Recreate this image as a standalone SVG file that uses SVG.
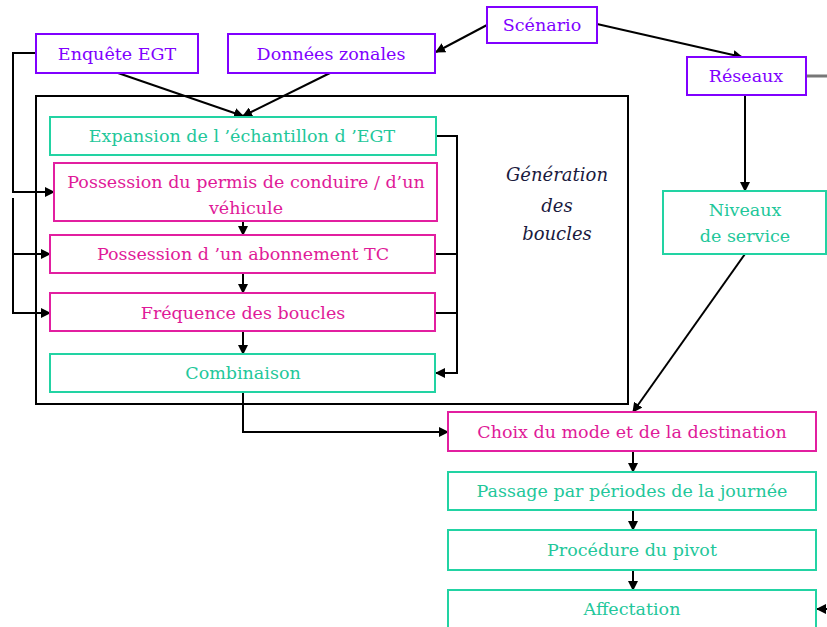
<svg xmlns="http://www.w3.org/2000/svg" width="827" height="627" viewBox="0 0 827 627">
<defs>
<marker id="ah" viewBox="0 0 10 10" refX="9" refY="5" markerWidth="5" markerHeight="5" orient="auto">
<path d="M0,0 L10,5 L0,10 z" fill="#000"/>
</marker>
<style>
text{font-family:"DejaVu Serif","Liberation Serif",serif;font-size:17.5px;text-anchor:middle}
.p rect{fill:#fff;stroke:#8000ff;stroke-width:2}
.p text{fill:#8000ff}
.g rect{fill:#fff;stroke:#22d3a3;stroke-width:2}
.g text{fill:#22c79a}
.m rect{fill:#fff;stroke:#e21fa0;stroke-width:2}
.m text{fill:#e01a98}
.c path{fill:none;stroke:#000;stroke-width:2}
.a{marker-end:url(#ah)}
.it{font-style:italic;fill:#1a1a3e;font-size:18px}
</style>
</defs>
<rect width="827" height="627" fill="#fff"/>
<g id="frame">
<rect x="36" y="96" width="592" height="308" fill="none" stroke="#000" stroke-width="2"/>
<text x="557" y="181" class="it">Génération</text>
<text x="557" y="212" class="it">des</text>
<text x="557" y="240" class="it">boucles</text>
</g>
<g class="c" id="connectors">
<path class="a" d="M487,25 L436,52"/>
<path class="a" d="M597,24 L742,57"/>
<path d="M806,76 L827,76" style="stroke:#777;stroke-width:3"/>
<path class="a" d="M118,73 L243,116"/>
<path class="a" d="M330,73 L243,116"/>
<path class="a" d="M36,53 L13,53 L13,192 L54,192"/>
<path class="a" d="M13,198 L13,313 L50,313"/>
<path class="a" d="M13,254 L50,254"/>
<path class="a" d="M436,136 L457,136 L457,373 L436,373"/>
<path d="M435,254 L457,254"/>
<path d="M435,313 L457,313"/>
<path class="a" d="M243,221 L243,235"/>
<path class="a" d="M243,273 L243,293"/>
<path class="a" d="M243,331 L243,354"/>
<path class="a" d="M243,392 L243,432 L448,432"/>
<path class="a" d="M745,95 L745,191"/>
<path class="a" d="M745,254 L633,412"/>
<path class="a" d="M633,451 L633,472"/>
<path class="a" d="M633,510 L633,530"/>
<path class="a" d="M633,570 L633,590"/>
<path class="a" d="M827,609 L817,609"/>
</g>
<g id="enquete" class="p"><rect x="36" y="34" width="162" height="39"/><text x="117" y="60">Enquête EGT</text></g>
<g id="donnees" class="p"><rect x="228" y="34" width="207" height="39"/><text x="331" y="60">Données zonales</text></g>
<g id="scenario" class="p"><rect x="487" y="7" width="110" height="36"/><text x="542" y="31">Scénario</text></g>
<g id="reseaux" class="p"><rect x="687" y="57" width="119" height="38"/><text x="746" y="82">Réseaux</text></g>
<g id="expansion" class="g"><rect x="50" y="117" width="386" height="38"/><text x="242" y="142">Expansion de l ’échantillon d ’EGT</text></g>
<g id="permis" class="m"><rect x="54" y="163" width="383" height="58"/><text x="246" y="188">Possession du permis de conduire / d’un</text><text x="246" y="214">véhicule</text></g>
<g id="abonnement" class="m"><rect x="50" y="235" width="385" height="38"/><text x="243" y="260">Possession d ’un abonnement TC</text></g>
<g id="frequence" class="m"><rect x="50" y="293" width="385" height="38"/><text x="243" y="319">Fréquence des boucles</text></g>
<g id="combinaison" class="g"><rect x="50" y="354" width="385" height="38"/><text x="243" y="379">Combinaison</text></g>
<g id="niveaux" class="g"><rect x="663" y="191" width="163" height="63"/><text x="745" y="216">Niveaux</text><text x="745" y="242">de service</text></g>
<g id="choix" class="m"><rect x="448" y="412" width="368" height="39"/><text x="632" y="438">Choix du mode et de la destination</text></g>
<g id="passage" class="g"><rect x="448" y="472" width="368" height="38"/><text x="632" y="497">Passage par périodes de la journée</text></g>
<g id="pivot" class="g"><rect x="448" y="530" width="368" height="40"/><text x="632" y="556">Procédure du pivot</text></g>
<g id="affectation" class="g"><rect x="448" y="590" width="368" height="50"/><text x="632" y="615">Affectation</text></g>
</svg>
